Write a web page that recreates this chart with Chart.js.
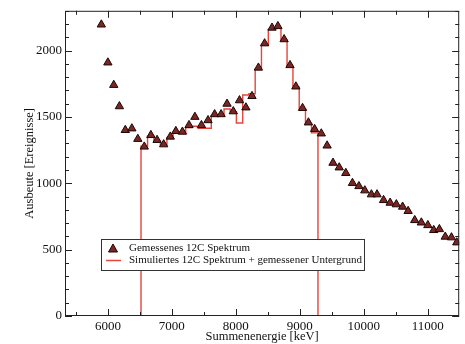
<!DOCTYPE html>
<html>
<head>
<meta charset="utf-8">
<script src="https://cdn.jsdelivr.net/npm/chart.js@4.4.1/dist/chart.umd.min.js"></script>
<style>
  html, body { margin: 0; padding: 0; background: #fff; }
  #wrap { width: 465px; height: 344px; }
</style>
</head>
<body>
<div id="wrap"><canvas id="grafica" width="465" height="344"></canvas></div>
<script>
// Gemessenes 12C Spektrum (Energie in keV, Ereignisse)
const energies = [5898, 6000, 6092, 6180, 6272, 6375, 6468, 6569, 6672, 6769,
  6872, 6975, 7062, 7165, 7268, 7360, 7462, 7565, 7668, 7769,
  7862, 7960, 8057, 8157, 8252, 8352, 8449, 8565, 8657, 8754,
  8846, 8938, 9042, 9134, 9231, 9335, 9426, 9518, 9615, 9718,
  9822, 9923, 10015, 10118, 10206, 10308, 10411, 10508, 10606, 10692,
  10795, 10898, 11000, 11092, 11180, 11272, 11369, 11452];
const counts = [2196, 1910, 1741, 1580, 1401, 1413, 1334, 1276, 1363, 1326,
  1293, 1351, 1393, 1388, 1438, 1500, 1438, 1475, 1520, 1520,
  1599, 1542, 1625, 1571, 1657, 1871, 2054, 2172, 2184, 2085,
  1890, 1729, 1567, 1458, 1408, 1375, 1284, 1154, 1119, 1077,
  1002, 978, 946, 916, 916, 873, 853, 841, 823, 791,
  722, 704, 684, 647, 654, 597, 592, 554];

// Simuliertes Spektrum + Untergrund: Bin-Kanten und Inhalte
const simEdges = [6518, 6620, 6720, 6820, 6923, 7018, 7113, 7216, 7314, 7411,
  7513, 7616, 7718, 7815, 7911, 8008, 8107, 8204, 8302, 8400,
  8507, 8611, 8705, 8800, 8892, 8990, 9088, 9182, 9283];
const simCounts = [1280, 1355, 1320, 1290, 1345, 1385, 1380, 1420, 1430, 1415,
  1415, 1510, 1515, 1560, 1540, 1455, 1665, 1675, 1860, 2040,
  2160, 2170, 2080, 1880, 1725, 1560, 1450, 1380];

const xTicks = [6000, 7000, 8000, 9000, 10000, 11000];
const yTicks = [0, 500, 1000, 1500, 2000];

const labelMeasured = 'Gemessenes 12C Spektrum';
const labelSim = 'Simuliertes 12C Spektrum + gemessener Untergrund';

const serif = '"Liberation Serif", "DejaVu Serif", serif';
const triFill = '#7a2622';
const triEdge = '#1c0606';
const redLine = '#e5453a';

const measured = energies.map((e, i) => ({ x: e, y: counts[i] }));

const simData = [{ x: simEdges[0], y: 0 }];
simCounts.forEach((c, i) => simData.push({ x: simEdges[i], y: c }));
simData.push({ x: simEdges[simEdges.length - 1], y: simCounts[simCounts.length - 1] });
simData.push({ x: simEdges[simEdges.length - 1], y: 0 });

// Rahmen, nach innen zeigende Ticks und Legende
const rahmen = {
  id: 'rahmen',
  afterDraw(chart) {
    const ctx = chart.ctx;
    const a = chart.chartArea;
    const xs = chart.scales.x;
    const ys = chart.scales.y;
    ctx.save();
    ctx.strokeStyle = '#222';
    ctx.lineWidth = 1;
    ctx.strokeRect(a.left + 0.5, a.top + 0.5, a.right - a.left - 1, a.bottom - a.top - 1);

    ctx.beginPath();
    for (let v = Math.ceil(xs.min / 500) * 500; v <= xs.max; v += 500) {
      const px = Math.round(xs.getPixelForValue(v)) + 0.5;
      const len = v % 1000 === 0 ? 7 : 4;
      ctx.moveTo(px, a.bottom); ctx.lineTo(px, a.bottom - len);
      ctx.moveTo(px, a.top); ctx.lineTo(px, a.top + len);
    }
    for (let v = 0; v <= ys.max; v += 100) {
      const py = Math.round(ys.getPixelForValue(v)) + 0.5;
      const len = v % 500 === 0 ? 7 : 4;
      ctx.moveTo(a.left, py); ctx.lineTo(a.left + len, py);
      ctx.moveTo(a.right, py); ctx.lineTo(a.right - len, py);
    }
    ctx.stroke();

    // Legende
    const lx = 101.5, ly = 239.5, lw = 263, lh = 31;
    ctx.fillStyle = '#fff';
    ctx.fillRect(lx, ly, lw, lh);
    ctx.strokeStyle = '#333';
    ctx.strokeRect(lx, ly, lw, lh);

    const r1 = ly + 9, r2 = ly + 21;
    ctx.beginPath();
    ctx.moveTo(113, r1 - 4.5);
    ctx.lineTo(117.5, r1 + 3.5);
    ctx.lineTo(108.5, r1 + 3.5);
    ctx.closePath();
    ctx.fillStyle = triFill;
    ctx.fill();
    ctx.strokeStyle = triEdge;
    ctx.stroke();

    ctx.beginPath();
    ctx.strokeStyle = redLine;
    ctx.lineWidth = 1.5;
    ctx.moveTo(106, r2); ctx.lineTo(121, r2);
    ctx.stroke();

    ctx.fillStyle = '#111';
    ctx.font = '11px ' + serif;
    ctx.textBaseline = 'middle';
    ctx.fillText(chart.data.datasets[0].label, 129, r1);
    ctx.fillText(chart.data.datasets[1].label, 129, r2);
    ctx.restore();
  }
};

const ctx = document.getElementById('grafica').getContext('2d');
new Chart(ctx, {
  type: 'scatter',
  data: {
    datasets: [{
      label: labelMeasured,
      data: measured,
      pointStyle: 'triangle',
      pointRadius: 4.8,
      pointBackgroundColor: triFill,
      pointBorderColor: triEdge,
      pointBorderWidth: 1,
      showLine: false
    }, {
      type: 'line',
      label: labelSim,
      data: simData,
      stepped: 'before',
      borderColor: redLine,
      borderWidth: 1.4,
      pointRadius: 0,
      fill: false
    }]
  },
  options: {
    responsive: false,
    animation: false,
    devicePixelRatio: 1,
    layout: { padding: { top: 8, right: 0, left: 0, bottom: 0 } },
    plugins: {
      legend: { display: false },
      tooltip: { enabled: false }
    },
    scales: {
      x: {
        type: 'linear',
        min: 5330,
        max: 11490,
        afterBuildTicks: s => { s.ticks = xTicks.map(v => ({ value: v })); },
        afterFit: s => { s.height = 28; },
        grid: { display: false, drawTicks: false },
        border: { display: false },
        ticks: {
          padding: 3,
          color: '#111',
          font: { family: serif, size: 13 },
          maxRotation: 0,
          callback: v => String(v)
        },
        title: {
          display: true,
          text: 'Summenenergie [keV]',
          color: '#111',
          font: { family: serif, size: 12.5 },
          padding: { top: 0, bottom: 0 }
        }
      },
      y: {
        min: 0,
        max: 2300,
        afterBuildTicks: s => { s.ticks = yTicks.map(v => ({ value: v })); },
        afterFit: s => { s.width = 65; },
        grid: { display: false, drawTicks: false },
        border: { display: false },
        ticks: {
          padding: 3,
          color: '#111',
          font: { family: serif, size: 13 },
          callback: v => String(v)
        },
        title: {
          display: true,
          text: 'Ausbeute [Ereignisse]',
          color: '#111',
          font: { family: serif, size: 12.5 },
          padding: { top: 22, bottom: 0 }
        }
      }
    }
  },
  plugins: [rahmen]
});
</script>
</body>
</html>
